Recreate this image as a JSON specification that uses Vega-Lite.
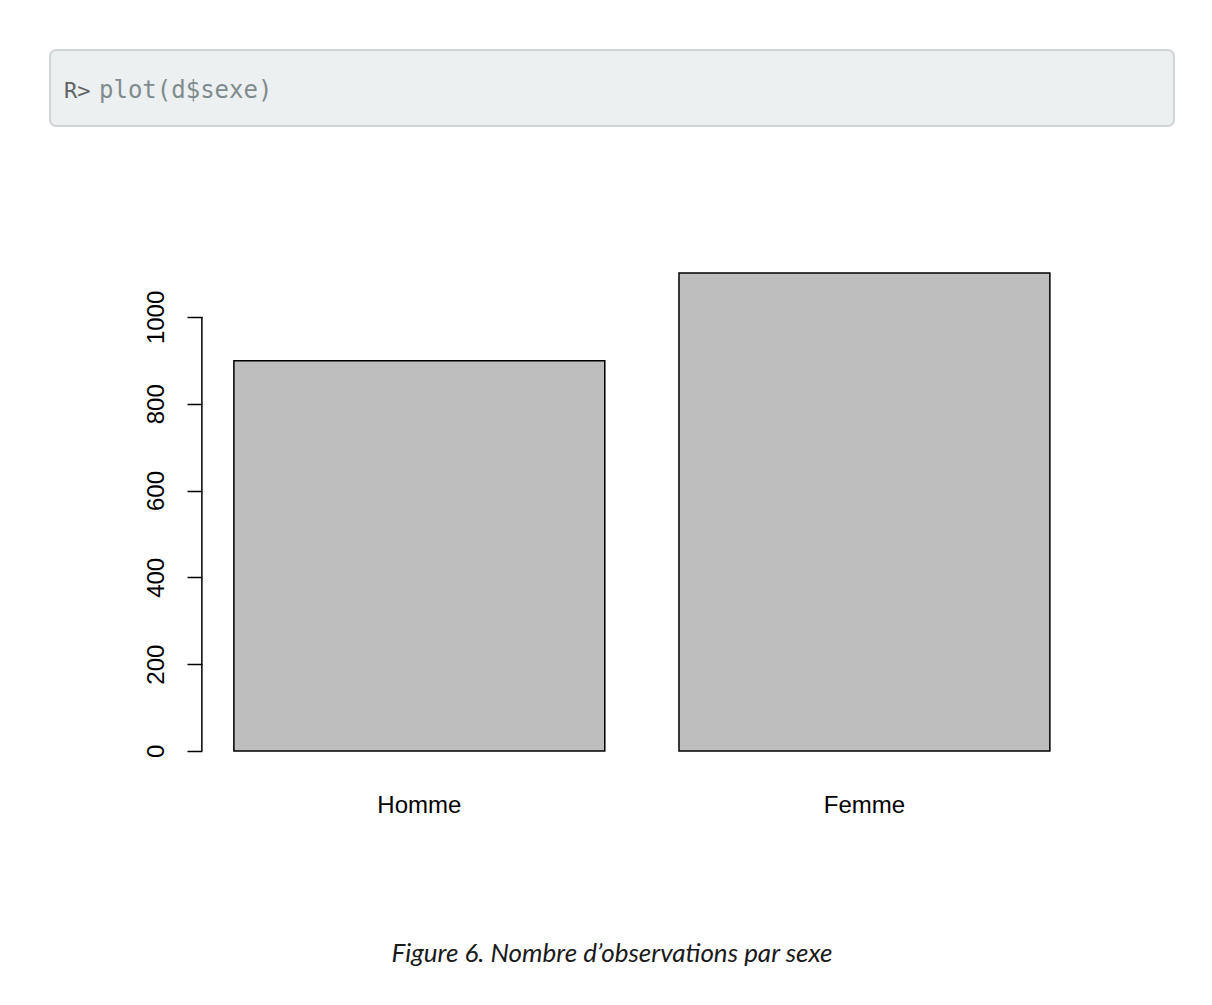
{
  "$schema": "https://vega.github.io/schema/vega-lite/v6.json",
  "padding": {"left": 49, "top": 49, "right": 0, "bottom": 0},
  "background": "white",
  "config": {"font": "Liberation Sans"},
  "title": {
    "text": "Figure 6. Nombre d’observations par sexe",
    "orient": "bottom",
    "anchor": "middle",
    "font": "Lato",
    "fontStyle": "italic",
    "fontWeight": "normal",
    "fontSize": 26,
    "color": "#1a1a1a",
    "baseline": "alphabetic",
    "offset": 145
  },
  "spacing": 127,
  "bounds": "full",
  "vconcat": [
    {
      "width": 1124,
      "height": 76,
      "view": {"fill": "#ecf0f1", "stroke": "#cfd4d6", "strokeWidth": 2, "cornerRadius": 6},
      "data": {"values": [{"prompt": "R>", "code": "plot(d$sexe)"}]},
      "layer": [
        {
          "mark": {"type": "text", "align": "left", "baseline": "alphabetic", "dx": -548, "dy": 10, "font": "DejaVu Sans Mono", "fontSize": 22, "color": "#5f6566"},
          "encoding": {"text": {"field": "prompt"}}
        },
        {
          "mark": {"type": "text", "align": "left", "baseline": "alphabetic", "dx": -513, "dy": 10, "font": "DejaVu Sans Mono", "fontSize": 24, "color": "#7f8c8d"},
          "encoding": {"text": {"field": "code"}}
        }
      ]
    },
    {
      "width": 1124,
      "height": 516,
      "view": {"stroke": null},
      "layer": [
        {
          "data": {"values": [{"sexe": "Homme", "n": 899}, {"sexe": "Femme", "n": 1101}]},
          "mark": {"type": "bar", "fill": "#bebebe", "stroke": "black", "strokeWidth": 1.5},
          "encoding": {
            "x": {
              "field": "sexe", "type": "nominal", "sort": ["Homme", "Femme"],
              "scale": {"paddingInner": 0.1667, "paddingOuter": 0.346, "align": 0.597},
              "axis": {"title": null, "ticks": false, "domain": false, "labelAngle": 0, "labelPadding": 23, "labelFontSize": 24, "labelFont": "Liberation Sans", "labelColor": "black", "labelBaseline": "top"}
            },
            "y": {
              "field": "n", "type": "quantitative",
              "scale": {"domain": [-44, 1145], "nice": false, "zero": false},
              "axis": {"title": null, "offset": -152, "values": [0, 200, 400, 600, 800, 1000], "format": "d", "domain": false, "grid": false, "ticks": true, "tickSize": 15, "tickColor": "black", "tickWidth": 1.5, "labelAngle": -90, "labelAlign": "center", "labelBaseline": "alphabetic", "labelPadding": 24, "labelFontSize": 24, "labelFont": "Liberation Sans", "labelColor": "black", "labelOverlap": false, "labelFlush": false}
            },
            "y2": {"datum": 0}
          }
        },
        {
          "data": {"values": [{}]},
          "mark": {"type": "rule", "color": "black", "strokeWidth": 1.5},
          "encoding": {
            "x": {"datum": "Homme", "bandPosition": -0.0863},
            "y": {"datum": 0},
            "y2": {"datum": 1000}
          }
        }
      ]
    }
  ]
}
